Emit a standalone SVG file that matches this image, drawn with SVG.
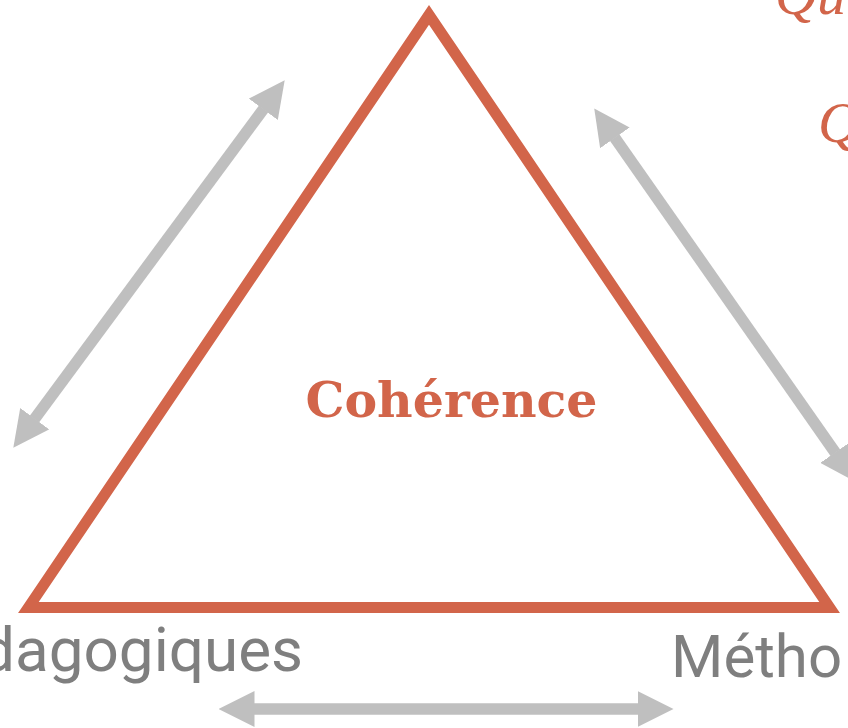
<svg xmlns="http://www.w3.org/2000/svg" width="848" height="728" viewBox="0 0 848 728">
  <style>
    .tri { fill: none; stroke: #D2654A; stroke-width: 11; stroke-linejoin: miter; stroke-miterlimit: 10; }
    .arrow { fill: none; stroke: #BFBFBF; stroke-width: 11.5; marker-start: url(#head); marker-end: url(#head); }
    .center { font-family: "DejaVu Serif", "Liberation Serif", serif; font-weight: bold; font-size: 49px; fill: #D2654A; }
    .corner { font-family: Roboto, "Liberation Sans", sans-serif; fill: #7F7F7F; }
    .question { font-family: "Liberation Serif", serif; font-style: italic; font-size: 58px; fill: #D2654A; }
  </style>
  <defs>
    <marker id="head" markerUnits="userSpaceOnUse" viewBox="0 0 36 36" markerWidth="36" markerHeight="36" refX="0.5" refY="18" orient="auto-start-reverse">
      <path d="M0,0 L36,18 L0,36 z" fill="#BFBFBF"/>
    </marker>
  </defs>
  <rect width="848" height="728" fill="#FFFFFF"/>

  <g id="connectors">
    <line class="arrow" x1="34.4" y1="419.1" x2="263.6" y2="108.9"/>
    <line class="arrow" x1="614.6" y1="137.5" x2="835.4" y2="452.9"/>
    <line class="arrow" x1="254" y1="709" x2="638" y2="709"/>
  </g>

  <g id="coherence">
    <polygon class="tri" points="28.4,607.5 429,14.8 829.6,607.5"/>
    <text class="center" x="451.5" y="417" text-anchor="middle">Cohérence</text>
  </g>

  <g id="pedagogiques">
    <text class="corner" x="-20" y="671" font-size="62">dagogiques</text>
  </g>

  <g id="methodes">
    <text class="corner" x="671" y="677" font-size="60">Métho</text>
  </g>

  <g id="questions">
    <text class="question" x="775" y="14">Qu</text>
    <text class="question" x="818" y="142">Q</text>
  </g>
</svg>
